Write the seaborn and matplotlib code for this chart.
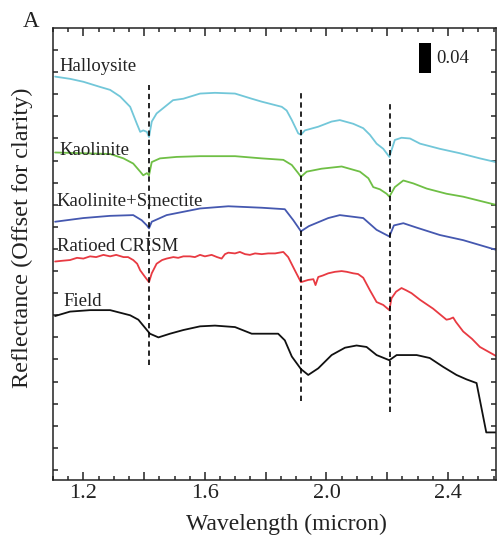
import matplotlib
matplotlib.use("Agg")
import matplotlib.pyplot as plt
import numpy as np
import pandas as pd
import seaborn as sns

# ---- spectra (wavelength in micron, reflectance offset for clarity) ----
halloysite_wl = [1.107, 1.156, 1.200, 1.255, 1.288, 1.321, 1.354, 1.376, 1.387, 1.397,
                 1.409, 1.416, 1.425, 1.441, 1.474, 1.495, 1.529, 1.584, 1.633, 1.699,
                 1.754, 1.787, 1.853, 1.869, 1.886, 1.907, 1.916, 1.929, 1.973, 2.017,
                 2.044, 2.088, 2.121, 2.143, 2.165, 2.187, 2.207, 2.225, 2.247, 2.275,
                 2.308, 2.373, 2.439, 2.505, 2.557]
halloysite_r = [0.534, 0.531, 0.527, 0.520, 0.516, 0.507, 0.493, 0.470, 0.459, 0.461,
                0.459, 0.452, 0.473, 0.484, 0.495, 0.502, 0.504, 0.511, 0.512, 0.511,
                0.504, 0.500, 0.493, 0.488, 0.475, 0.457, 0.455, 0.461, 0.466, 0.473,
                0.475, 0.470, 0.464, 0.455, 0.443, 0.436, 0.425, 0.448, 0.451, 0.450,
                0.443, 0.436, 0.430, 0.423, 0.418]

kaolinite_wl = [1.107, 1.200, 1.288, 1.332, 1.364, 1.387, 1.397, 1.409, 1.416, 1.425,
                1.452, 1.507, 1.584, 1.699, 1.787, 1.858, 1.886, 1.907, 1.916, 1.935,
                1.984, 2.050, 2.110, 2.138, 2.154, 2.176, 2.198, 2.207, 2.225, 2.253,
                2.286, 2.330, 2.395, 2.450, 2.557]
kaolinite_r = [0.431, 0.430, 0.429, 0.423, 0.416, 0.405, 0.400, 0.403, 0.400, 0.418,
               0.423, 0.425, 0.426, 0.426, 0.423, 0.421, 0.414, 0.403, 0.398, 0.405,
               0.409, 0.412, 0.405, 0.396, 0.384, 0.381, 0.375, 0.371, 0.384, 0.393,
               0.389, 0.382, 0.375, 0.371, 0.360]

kaosmec_wl = [1.107, 1.200, 1.288, 1.364, 1.392, 1.409, 1.416, 1.425, 1.474, 1.584,
              1.677, 1.787, 1.863, 1.891, 1.916, 1.942, 2.006, 2.044, 2.121, 2.165,
              2.207, 2.222, 2.253, 2.297, 2.373, 2.450, 2.557]
kaosmec_r = [0.337, 0.342, 0.345, 0.346, 0.339, 0.332, 0.328, 0.337, 0.346, 0.355,
             0.358, 0.356, 0.354, 0.339, 0.324, 0.331, 0.342, 0.346, 0.342, 0.326,
             0.317, 0.332, 0.335, 0.329, 0.319, 0.312, 0.299]

crism_wl = [1.107, 1.130, 1.156, 1.179, 1.200, 1.222, 1.242, 1.266, 1.288, 1.308,
            1.332, 1.347, 1.364, 1.377, 1.387, 1.403, 1.416, 1.425, 1.441, 1.459,
            1.474, 1.496, 1.512, 1.529, 1.551, 1.567, 1.584, 1.600, 1.622, 1.640,
            1.655, 1.666, 1.677, 1.699, 1.715, 1.732, 1.748, 1.765, 1.787, 1.808,
            1.831, 1.858, 1.874, 1.896, 1.916, 1.940, 1.957, 1.964, 1.973, 1.988,
            2.006, 2.028, 2.050, 2.067, 2.088, 2.104, 2.121, 2.143, 2.165, 2.187,
            2.207, 2.214, 2.229, 2.247, 2.262, 2.280, 2.308, 2.351, 2.395, 2.406,
            2.417, 2.426, 2.450, 2.479, 2.505, 2.531, 2.557]
crism_r = [0.283, 0.284, 0.285, 0.288, 0.287, 0.290, 0.289, 0.292, 0.290, 0.292,
           0.289, 0.289, 0.285, 0.280, 0.271, 0.262, 0.255, 0.267, 0.280, 0.285,
           0.287, 0.289, 0.288, 0.290, 0.290, 0.289, 0.292, 0.290, 0.292, 0.289,
           0.287, 0.293, 0.295, 0.294, 0.296, 0.293, 0.292, 0.294, 0.293, 0.294,
           0.294, 0.296, 0.289, 0.271, 0.255, 0.258, 0.259, 0.251, 0.262, 0.264,
           0.267, 0.269, 0.270, 0.269, 0.267, 0.266, 0.261, 0.244, 0.228, 0.224,
           0.217, 0.233, 0.242, 0.247, 0.244, 0.240, 0.231, 0.219, 0.204, 0.205,
           0.207, 0.201, 0.188, 0.178, 0.167, 0.161, 0.155]

field_wl = [1.107, 1.156, 1.222, 1.288, 1.354, 1.381, 1.409, 1.419, 1.447, 1.485,
            1.529, 1.584, 1.633, 1.699, 1.754, 1.809, 1.841, 1.863, 1.886, 1.916,
            1.940, 1.973, 2.017, 2.061, 2.099, 2.132, 2.165, 2.207, 2.231, 2.297,
            2.340, 2.384, 2.428, 2.461, 2.494, 2.526, 2.557]
field_r = [0.209, 0.215, 0.217, 0.217, 0.210, 0.204, 0.190, 0.185, 0.180, 0.185,
           0.190, 0.195, 0.196, 0.194, 0.185, 0.185, 0.185, 0.176, 0.154, 0.137,
           0.129, 0.138, 0.156, 0.166, 0.169, 0.167, 0.156, 0.149, 0.156, 0.156,
           0.152, 0.140, 0.129, 0.123, 0.118, 0.051, 0.051]

series_names = ["Halloysite", "Kaolinite", "Kaolinite+Smectite", "Ratioed CRISM", "Field"]
series_colors = ["#72c7d9", "#6fbf45", "#4558b0", "#e83a42", "#111111"]
# label anchor (left x in micron, baseline in reflectance units)
label_x = [1.120, 1.120, 1.110, 1.112, 1.133]
label_y = [0.542, 0.427, 0.358, 0.297, 0.223]

# absorption band markers: position, lower end, upper end
band_wl = [1.415, 1.915, 2.208]
band_lo = [0.142, 0.093, 0.079]
band_hi = [0.522, 0.513, 0.500]

scale_bar = 0.04
scale_bar_wl = 2.325
scale_bar_base = 0.539

x_major = [1.2, 1.4, 1.6, 1.8, 2.0, 2.2, 2.4]
x_major_labels = ["1.2", "", "1.6", "", "2.0", "", "2.4"]

# ---- figure ----
sns.set_theme(style="ticks")
plt.rcParams["font.family"] = ["Liberation Serif", "DejaVu Serif"]
plt.rcParams["axes.linewidth"] = 1.1

fig = plt.figure(figsize=(4.98, 5.42), dpi=100)
ax = fig.add_axes([53 / 498, 1 - 480 / 542, (496 - 53) / 498, (480 - 28) / 542])

frames = []
for name, wl, r in zip(series_names,
                       [halloysite_wl, kaolinite_wl, kaosmec_wl, crism_wl, field_wl],
                       [halloysite_r, kaolinite_r, kaosmec_r, crism_r, field_r]):
    frames.append(pd.DataFrame({"wavelength": wl, "reflectance": r, "sample": name}))
spectra = pd.concat(frames, ignore_index=True)

sns.lineplot(data=spectra, x="wavelength", y="reflectance", hue="sample",
             hue_order=series_names, palette=series_colors, linewidth=1.3,
             estimator=None, sort=False, legend=False, ax=ax)

for name, xx, yy in zip(series_names, label_x, label_y):
    ax.text(xx, yy, name, fontsize=13.5, color="#222222", va="baseline", ha="left")

ax.vlines(band_wl, band_lo, band_hi, colors="black", linewidth=1.2,
          linestyles=(0, (3.2, 2.3)))

# scale bar
ax.bar([scale_bar_wl], [scale_bar], bottom=scale_bar_base, width=0.04,
       color="black", edgecolor="none")
ax.text(scale_bar_wl + 0.037, scale_bar_base + scale_bar / 2, f"{scale_bar:.2f}",
        fontsize=13.5, va="center", ha="left", color="#222222")

ax.set_xlim(1.1, 2.558)
ax.set_ylim(-0.0136, 0.6)
ax.set_xticks(x_major)
ax.set_xticklabels(x_major_labels)
ax.set_xticks(np.arange(1.1, 2.56, 0.05), minor=True)
ax.set_yticks(np.arange(0, 0.58, 0.03))
ax.set_yticklabels([])
ax.tick_params(axis="x", which="major", direction="in", top=True, bottom=True,
               length=5.8, width=1.1, labelsize=16, pad=3, colors="#222222")
ax.tick_params(axis="x", which="minor", direction="in", top=True, bottom=True,
               length=3, width=1.1)
ax.tick_params(axis="y", which="major", direction="in", left=True, right=True,
               length=3.6, width=1.1)
for s in ax.spines.values():
    s.set_visible(True)
    s.set_color("#222222")
ax.set_xlabel("")
ax.set_ylabel("")

fig.text(286.5 / 498, 1 - 530 / 542, "Wavelength (micron)", fontsize=17,
         ha="center", va="baseline", color="#222222")
fig.text(22 / 498, 1 - 237.5 / 542, "Reflectance (Offset for clarity)", fontsize=17.5,
         rotation=90, ha="center", va="center", color="#222222")
fig.text(23 / 498, 1 - 27 / 542, "A", fontsize=16.5, ha="left", va="baseline",
         color="#222222")

fig.savefig("out.png", dpi=100)
